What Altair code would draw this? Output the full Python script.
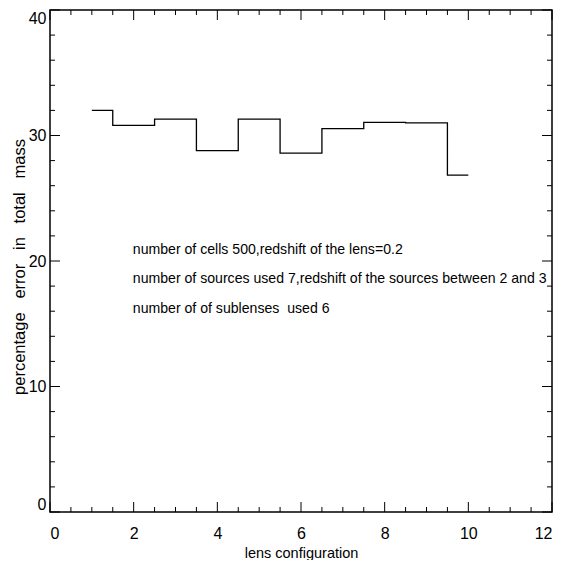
import altair as alt
import pandas as pd

# ---- data ----
config = [1, 2, 3, 4, 5, 6, 7, 8, 9, 10]
error = [32.0, 30.8, 31.3, 28.8, 31.3, 28.6, 30.55, 31.05, 31.0, 26.85]

x_major = [0, 2, 4, 6, 8, 10, 12]
x_minor = [0.5, 1, 1.5, 2.5, 3, 3.5, 4.5, 5, 5.5, 6.5, 7, 7.5,
           8.5, 9, 9.5, 10.5, 11, 11.5]
y_major = [0, 10, 20, 30, 40]
y_minor = [2, 4, 6, 8, 12, 14, 16, 18, 22, 24, 26, 28, 32, 34, 36, 38]

NB = "\u00a0"
notes = [
    "number of cells 500,redshift of the lens=0.2",
    "number of sources used 7,redshift of the sources between 2 and 3",
    "number of of sublenses " + NB + "used 6",
]
note_x = [1.98, 1.98, 1.98]
note_y = [20.9, 18.55, 16.2]

x_title = "lens configuration"
gap = NB * 3
y_title = gap.join(["percentage", "error", "in", "total", "mass"])

# ---- layout constants ----
W = 502
H = 502
FONT = "Liberation Sans"
MAJOR = 10
MINOR = 5

x_scale = alt.Scale(domain=[0, 12], nice=False, zero=False)
y_scale = alt.Scale(domain=[0, 40], nice=False, zero=False)

x_axis = alt.Axis(values=x_major, title=x_title,
                  domain=False, ticks=False, tickSize=0, grid=False,
                  labelPadding=13, labelFontSize=16, labelFont=FONT,
                  labelColor="black", titleFont=FONT, titleFontSize=14.5,
                  titleFontWeight="normal", titleColor="black",
                  titleX=W / 2, titleY=45, titleBaseline="alphabetic")
y_axis = alt.Axis(values=y_major, title=y_title,
                  domain=False, ticks=False, tickSize=0, grid=False,
                  labelPadding=4, labelFlush=True, labelFontSize=16,
                  labelFont=FONT, labelColor="black", titleFont=FONT,
                  titleFontSize=16.5, titleFontWeight="normal",
                  titleColor="black", titleX=-26, titleY=256.5,
                  titleBaseline="alphabetic")

df = pd.DataFrame({"config": config, "error": error})

line = alt.Chart(df).mark_line(interpolate="step", color="black", strokeWidth=1.3).encode(
    x=alt.X("config:Q", scale=x_scale, axis=x_axis),
    y=alt.Y("error:Q", scale=y_scale, axis=y_axis),
)


def xticks(vals, y1, y2):
    return alt.Chart(pd.DataFrame({"config": vals})).mark_rule(color="black", strokeWidth=1).encode(
        x=alt.X("config:Q", scale=x_scale, axis=x_axis),
        y=alt.value(y1), y2=alt.value(y2))


def yticks(vals, x1, x2):
    return alt.Chart(pd.DataFrame({"error": vals})).mark_rule(color="black", strokeWidth=1).encode(
        y=alt.Y("error:Q", scale=y_scale, axis=y_axis),
        x=alt.value(x1), x2=alt.value(x2))


ticks = [
    xticks(x_major, H, H - MAJOR), xticks(x_minor, H, H - MINOR),
    xticks(x_major, 0, MAJOR), xticks(x_minor, 0, MINOR),
    yticks(y_major, 0, MAJOR), yticks(y_minor, 0, MINOR),
    yticks(y_major, W, W - MAJOR), yticks(y_minor, W, W - MINOR),
]

notes_df = pd.DataFrame({"t": notes, "config": note_x, "error": note_y})
text = alt.Chart(notes_df).mark_text(align="left", baseline="middle", fontSize=14.1,
                                     font=FONT, color="black").encode(
    x=alt.X("config:Q", scale=x_scale, axis=x_axis),
    y=alt.Y("error:Q", scale=y_scale, axis=y_axis),
    text="t:N",
)

chart = alt.layer(line, *ticks, text).properties(
    width=W, height=H,
    background="white",
    autosize=alt.AutoSizeParams(type="none"),
    padding={"left": 42, "top": 2, "right": 6, "bottom": 48},
).configure_view(stroke="black", strokeWidth=1.5)

chart.save("out.html", embed_options={"renderer": "svg", "actions": False})
